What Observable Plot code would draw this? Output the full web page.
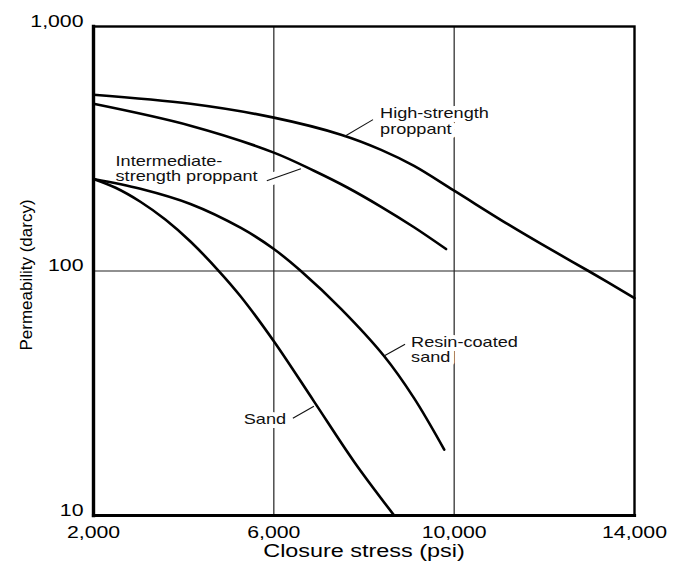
<!DOCTYPE html>
<html><head><meta charset="utf-8">
<script src="https://cdn.jsdelivr.net/npm/d3@7"></script>
<script src="https://cdn.jsdelivr.net/npm/@observablehq/plot@0.6"></script>
<style>body{margin:0;background:#fff} svg{display:block}</style>
</head><body><div id="chart"></div>
<script>
// ---- data ----
const seriesNames = ["High-strength proppant", "Intermediate-strength proppant", "Resin-coated sand", "Sand"];

const highStress = [2000, 4150, 6000, 7490, 8380, 9110, 10000, 11200, 11930, 12980, 14000];
const highPerm   = [526, 483, 424, 361, 313, 269, 213, 155, 129, 100, 77.5];

const interStress = [2000, 4150, 6000, 6890, 7640, 8380, 9110, 9820];
const interPerm   = [483, 393, 305, 257, 219, 183, 151, 123];

const resinStress = [2000, 3040, 4150, 5270, 6000, 6600, 7490, 8440, 9110, 9780];
const resinPerm   = [238, 217, 188, 150, 123, 100, 70, 45, 30.2, 18.6];

const sandStress = [2000, 2490, 3040, 3600, 4150, 4780, 5270, 6000, 6890, 7780, 8670];
const sandPerm   = [238, 219, 192, 162, 132, 100, 78.5, 51.6, 29.3, 16.6, 10];

const xTicks = [2000, 6000, 10000, 14000];
const yTicks = [10, 100, 1000];
const xGrid = [6000, 10000];
const yGrid = [100];

const xLabel = "Closure stress (psi)";
const yLabel = "Permeability (darcy)";

// annotation labels (anchor = top-left of text, in data units)
const labelText = ["High-strength\nproppant", "Intermediate-\nstrength proppant", "Resin-coated\nsand", "Sand"];
const labelX = [8356, 2489, 9044, 5333];
const labelY = [466, 299, 54.2, 26.2];
// leader lines
const leadX1 = [7556, 5844, 8444, 6422];
const leadY1 = [354, 234, 44.9, 25];
const leadX2 = [8200, 6600, 8911, 6889];
const leadY2 = [416, 262, 50.2, 28];

// ---- build tables ----
const stressArrays = [highStress, interStress, resinStress, sandStress];
const permArrays = [highPerm, interPerm, resinPerm, sandPerm];
const curves = seriesNames.flatMap((name, i) =>
  stressArrays[i].map((s, j) => ({series: name, stress: s, perm: permArrays[i][j]})));
const labels = labelText.map((t, i) => ({text: t, x: labelX[i], y: labelY[i]}));
const leaders = leadX1.map((x1, i) => ({x1, y1: leadY1[i], x2: leadX2[i], y2: leadY2[i]}));

const chart = Plot.plot({
  width: 674,
  height: 563,
  marginLeft: 93,
  marginRight: 40,
  marginTop: 26,
  marginBottom: 48,
  style: {fontFamily: "'Liberation Sans', Arial, Helvetica, sans-serif", background: "white", color: "black"},
  x: {domain: [2000, 14000]},
  y: {type: "log", domain: [10, 1000]},
  marks: [
    Plot.ruleX(xGrid, {stroke: "#222", strokeWidth: 1.2}),
    Plot.ruleY(yGrid, {stroke: "#222", strokeWidth: 1.2}),
    Plot.link(leaders, {x1: "x1", y1: "y1", x2: "x2", y2: "y2", stroke: "white", strokeWidth: 12}),
    Plot.text(labels, {x: "x", y: "y", text: "text", textAnchor: "start", lineAnchor: "top",
      fontSize: 14.5, lineHeight: 1.05, fill: "#111", stroke: "white", strokeWidth: 8}),
    Plot.line(curves, {x: "stress", y: "perm", z: "series", curve: "catmull-rom",
      stroke: "black", strokeWidth: 2.6, strokeLinejoin: "round", strokeLinecap: "round"}),
    Plot.link(leaders, {x1: "x1", y1: "y1", x2: "x2", y2: "y2", stroke: "#111", strokeWidth: 1.1}),
    Plot.axisX({ticks: xTicks, tickFormat: d3.format(","), tickSize: 0, tickPadding: 10, fontSize: 17, label: null}),
    Plot.axisY({ticks: yTicks, tickFormat: d3.format(","), tickSize: 0, tickPadding: 10, fontSize: 17, dy: -5, label: null}),
    Plot.text([xLabel], {frameAnchor: "bottom", dy: 29, lineAnchor: "top", fontSize: 18, fill: "black"}),
    Plot.text([yLabel], {frameAnchor: "left", dx: -67, dy: 4, rotate: -90, textAnchor: "middle", lineAnchor: "middle", fontSize: 17, fill: "black"}),
    Plot.frame({stroke: "black", strokeWidth: 2.4}),
    Plot.frame({anchor: "left", stroke: "black", strokeWidth: 3.4}),
    Plot.frame({anchor: "bottom", stroke: "black", strokeWidth: 3.2})
  ]
});
document.querySelector("#chart").append(chart);

// the reference glyphs are horizontally widened; emulate with textLength
chart.querySelectorAll("text").forEach(t => {
  if (t.textContent === yLabel) return;
  const factor = t.textContent === xLabel ? 1.3 : 1.25;
  const spans = t.querySelectorAll("tspan");
  const els = spans.length ? Array.from(spans) : [t];
  els.forEach(e => {
    const L = e.getComputedTextLength();
    if (L > 0) {
      e.setAttribute("textLength", (L * factor).toFixed(1));
      e.setAttribute("lengthAdjust", "spacingAndGlyphs");
    }
  });
});
</script>
</body></html>
